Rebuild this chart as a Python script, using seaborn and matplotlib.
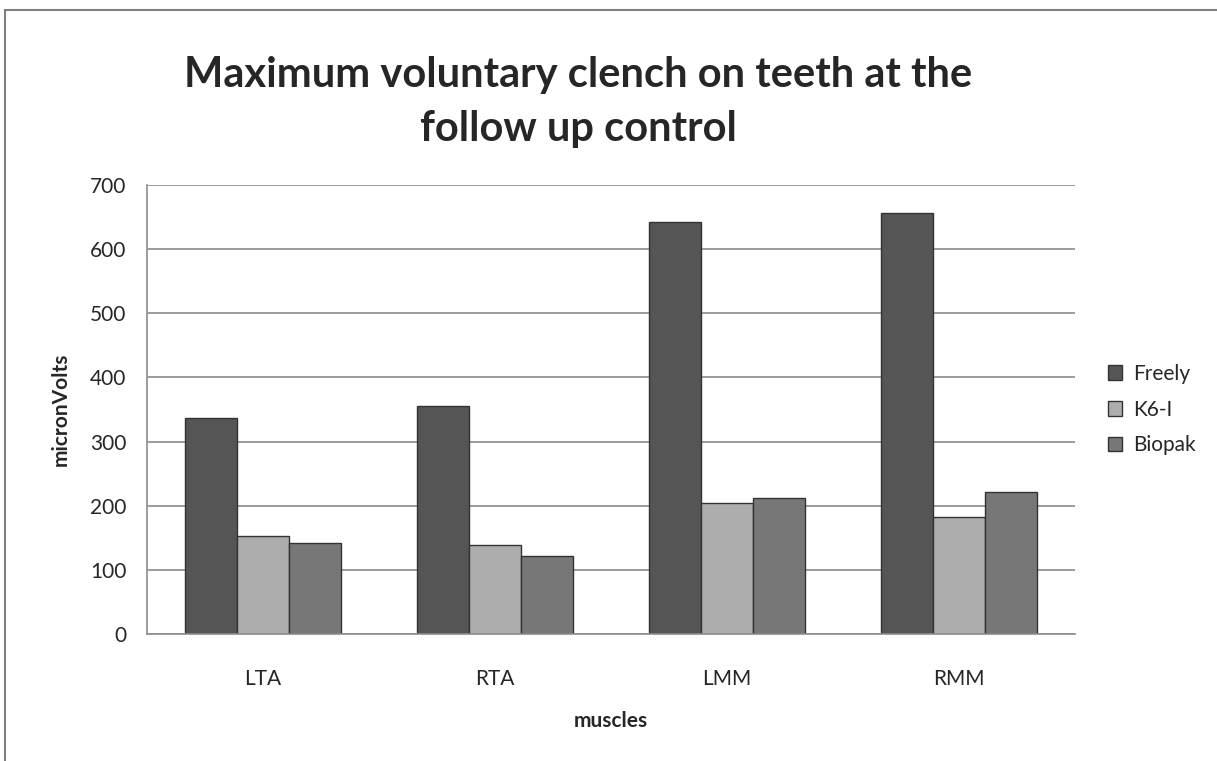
import numpy as np
import pandas as pd
import seaborn as sns
from matplotlib import pyplot as plt
from matplotlib.patches import Rectangle

muscles = ['LTA', 'RTA', 'LMM', 'RMM']
groups = ['Freely', 'K6-I', 'Biopak']
freely = [337, 355, 643, 656]
k6i = [153, 138, 204, 183]
biopak = [142, 121, 212, 222]
colors = ['#555555', '#adadad', '#777777']

df = pd.DataFrame({'muscles': muscles * 3,
                   'group': [g for g in groups for _ in muscles],
                   'value': freely + k6i + biopak})

sns.set_style('white')
plt.rcParams['font.family'] = ['Lato', 'DejaVu Sans']

fig = plt.figure(figsize=(12.17, 7.61), dpi=100)
ax = fig.add_axes([147 / 1217, 1 - 634 / 761, 928 / 1217, 449 / 761])

sns.barplot(data=df, x='muscles', y='value', hue='group', palette=colors,
            width=0.67, gap=0, edgecolor='#333333', linewidth=1.0, ax=ax)

# y axis
ax.set_ylim(0, 700)
ax.set_yticks(np.arange(0, 701, 100))
ax.yaxis.grid(True, color='#8c8c8c', linewidth=1.2)
ax.set_axisbelow(True)
ax.tick_params(axis='y', direction='out', length=7, color='#8c8c8c', labelsize=15, pad=8)

# x axis: category labels, tick marks on group boundaries
ax.set_xlim(-0.5, 3.5)
ax.set_xticks(np.arange(-0.5, 3.6, 1), minor=True)
ax.tick_params(axis='x', which='major', length=0, labelsize=15, pad=25)
ax.tick_params(axis='x', which='minor', direction='out', length=7, color='#8c8c8c')

for side in ['top', 'right']:
    ax.spines[side].set_visible(False)
for side in ['left', 'bottom']:
    ax.spines[side].set_color('#8c8c8c')
    ax.spines[side].set_linewidth(1.2)

ax.set_xlabel('muscles', fontsize=15, fontweight='bold', labelpad=16)
ax.set_ylabel('micronVolts', fontsize=15, fontweight='bold', labelpad=14)

fig.text(578 / 1217, 1 - 102 / 761, 'Maximum voluntary clench on teeth at the\nfollow up control',
         ha='center', va='center', fontsize=30, fontweight='bold', linespacing=1.5)

handles, labels = ax.get_legend_handles_labels()
ax.legend(handles, labels, loc='center left', bbox_to_anchor=(1.015, 0.5), frameon=False,
          fontsize=15, handlelength=0.7, handleheight=0.7, handletextpad=0.5, labelspacing=0.75)

# chart border (left and top edges visible)
fig.patches.append(Rectangle((5 / 1217, -0.1), 1.2, 1 - 10 / 761 + 0.1, transform=fig.transFigure,
                             fill=False, edgecolor='#808080', linewidth=1.5))

fig.savefig('out.png', dpi=100)
